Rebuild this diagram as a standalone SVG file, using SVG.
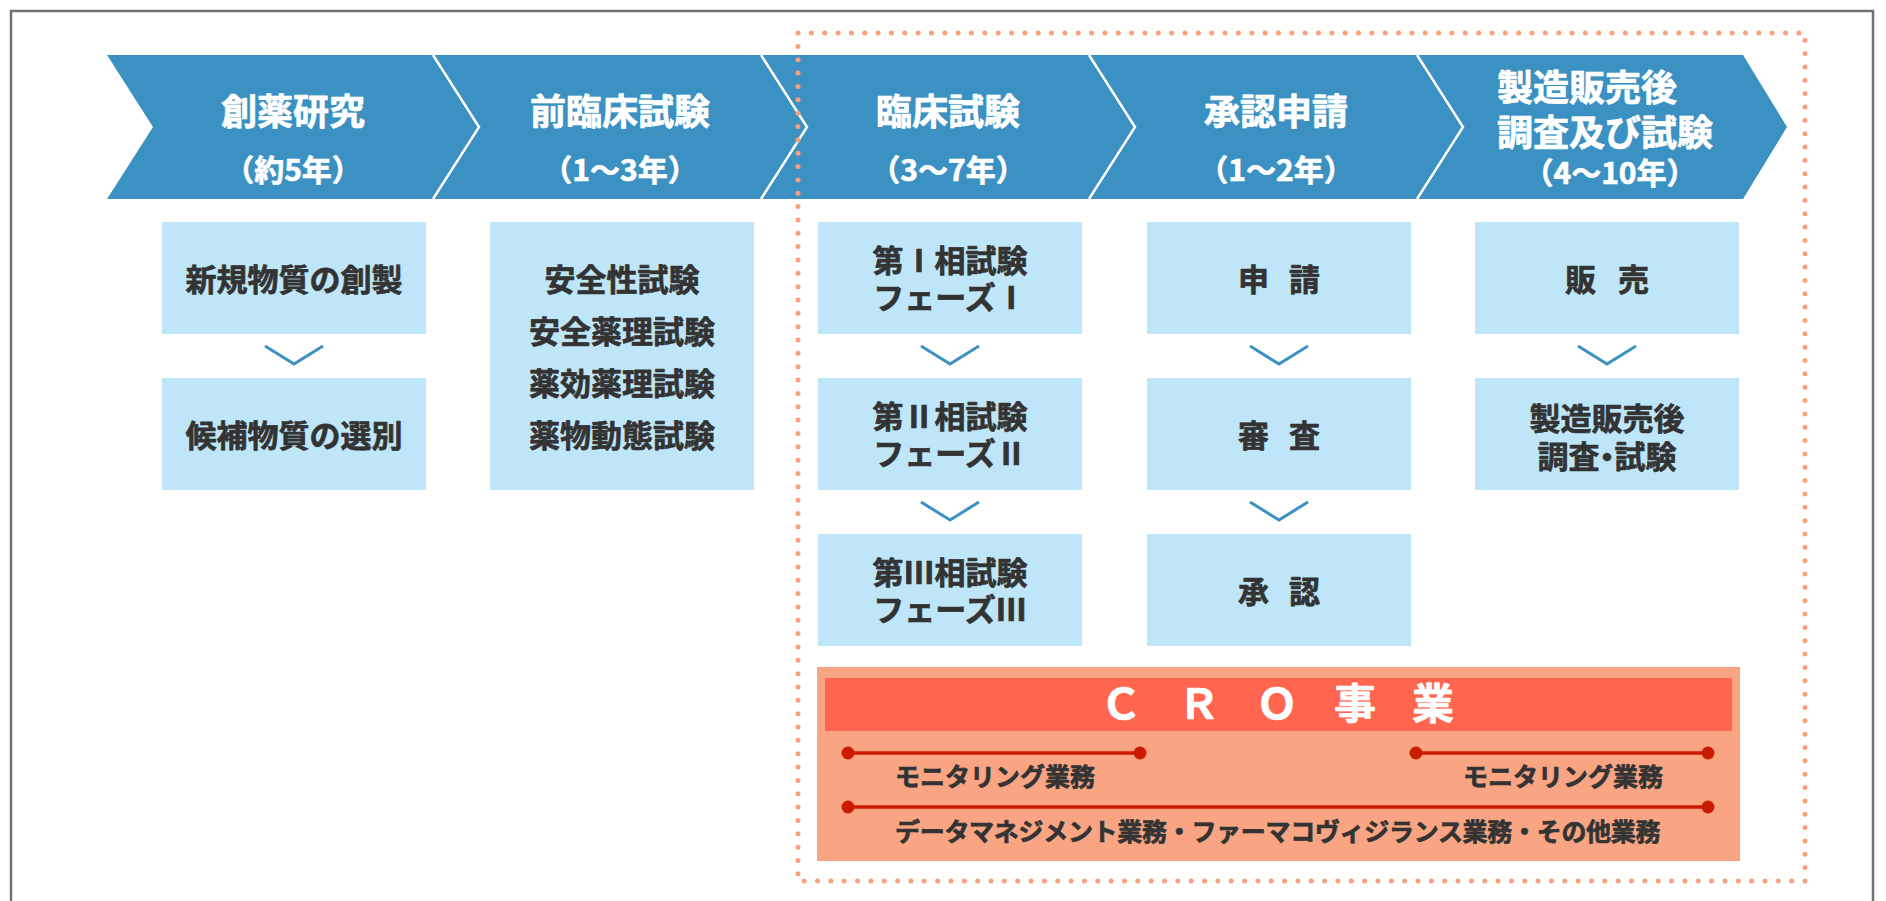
<svg xmlns="http://www.w3.org/2000/svg" width="1886" height="901" viewBox="0 0 1886 901">
<style>
  text { font-family: "Noto Sans CJK JP", "Noto Sans CJK SC", sans-serif; font-weight: bold; stroke-width: 0.7px; stroke-linejoin: round; }
  .chev { fill: #3a91c2; }
  .sep { fill: none; stroke: #ffffff; stroke-width: 2.5; }
  .wt { fill: #ffffff; stroke: #ffffff; font-size: 36px; text-anchor: middle; }
  .wy { fill: #ffffff; stroke: #ffffff; font-size: 30px; text-anchor: middle; }
  .box { fill: #bee6f8; }
  .bt { fill: #333333; stroke: #333333; font-size: 31px; text-anchor: middle; }
  .vv { fill: none; stroke: #3a91c2; stroke-width: 3; }
  .ct { fill: #333333; stroke: #333333; font-size: 25px; }
  .rl { stroke: #cc1c00; stroke-width: 3.5; }
  .rd { fill: #cc1c00; }
</style>
<rect x="0" y="0" width="1886" height="901" fill="#ffffff"/>
<rect id="frame" x="11" y="11" width="1862" height="920" fill="none" stroke="#707070" stroke-width="2.5"/>

<g id="phase-1">
  <polygon class="chev" points="107,55 433,55 479,127 433,199 107,199 153,127"/>
  <text class="wt" x="293" y="125">創薬研究</text>
  <text class="wy" x="293" y="181">（約5年）</text>
</g>
<g id="phase-2">
  <polygon class="chev" points="433,55 761,55 807,127 761,199 433,199 479,127"/>
  <text class="wt" x="620" y="125">前臨床試験</text>
  <text class="wy" x="620" y="181">（1〜3年）</text>
</g>
<g id="phase-3">
  <polygon class="chev" points="761,55 1089,55 1135,127 1089,199 761,199 807,127"/>
  <text class="wt" x="948" y="125">臨床試験</text>
  <text class="wy" x="948" y="181">（3〜7年）</text>
</g>
<g id="phase-4">
  <polygon class="chev" points="1089,55 1417,55 1463,127 1417,199 1089,199 1135,127"/>
  <text class="wt" x="1276" y="125">承認申請</text>
  <text class="wy" x="1276" y="181">（1〜2年）</text>
</g>
<g id="phase-5">
  <polygon class="chev" points="1417,55 1743,55 1787,127 1743,199 1417,199 1463,127"/>
  <text class="wt" x="1497" y="101" style="text-anchor:start">製造販売後</text>
  <text class="wt" x="1497" y="146" style="text-anchor:start">調査及び試験</text>
  <text class="wy" x="1610" y="184">（4〜10年）</text>
</g>
<g id="phase-separators">
  <polyline class="sep" points="433,55 479,127 433,199"/>
  <polyline class="sep" points="761,55 807,127 761,199"/>
  <polyline class="sep" points="1089,55 1135,127 1089,199"/>
  <polyline class="sep" points="1417,55 1463,127 1417,199"/>
</g>

<g id="box-souyaku-1">
  <rect class="box" x="162" y="222" width="264" height="112"/>
  <text class="bt" x="294" y="291">新規物質の創製</text>
</g>
<g id="box-souyaku-2">
  <rect class="box" x="162" y="378" width="264" height="112"/>
  <text class="bt" x="294" y="447">候補物質の選別</text>
</g>
<g id="box-preclinical">
  <rect class="box" x="490" y="222" width="264" height="268"/>
  <text class="bt" x="622" y="291">安全性試験</text>
  <text class="bt" x="622" y="343">安全薬理試験</text>
  <text class="bt" x="622" y="395">薬効薬理試験</text>
  <text class="bt" x="622" y="447">薬物動態試験</text>
</g>
<g id="box-phase1">
  <rect class="box" x="818" y="222" width="264" height="112"/>
  <text class="bt" x="950" y="272">第Ⅰ相試験</text>
  <text class="bt" x="950" y="309">フェーズⅠ</text>
</g>
<g id="box-phase2">
  <rect class="box" x="818" y="378" width="264" height="112"/>
  <text class="bt" x="950" y="428">第Ⅱ相試験</text>
  <text class="bt" x="950" y="465">フェーズⅡ</text>
</g>
<g id="box-phase3">
  <rect class="box" x="818" y="534" width="264" height="112"/>
  <text class="bt" x="950" y="584">第Ⅲ相試験</text>
  <text class="bt" x="950" y="621">フェーズⅢ</text>
</g>
<g id="box-shinsei">
  <rect class="box" x="1147" y="222" width="264" height="112"/>
  <text class="bt" x="1279" y="291">申<tspan dx="20">請</tspan></text>
</g>
<g id="box-shinsa">
  <rect class="box" x="1147" y="378" width="264" height="112"/>
  <text class="bt" x="1279" y="447">審<tspan dx="20">査</tspan></text>
</g>
<g id="box-shounin">
  <rect class="box" x="1147" y="534" width="264" height="112"/>
  <text class="bt" x="1279" y="603">承<tspan dx="20">認</tspan></text>
</g>
<g id="box-hanbai">
  <rect class="box" x="1475" y="222" width="264" height="112"/>
  <text class="bt" x="1607" y="291">販<tspan dx="22">売</tspan></text>
</g>
<g id="box-pms">
  <rect class="box" x="1475" y="378" width="264" height="112"/>
  <text class="bt" x="1607" y="430">製造販売後</text>
  <text class="bt" x="1607" y="468">調査<tspan dx="-8">・</tspan><tspan dx="-8">試験</tspan></text>
</g>

<g id="connectors">
  <polyline class="vv" points="265,346 294,364 323,346"/>
  <polyline class="vv" points="921,346 950,364 979,346"/>
  <polyline class="vv" points="921,502 950,520 979,502"/>
  <polyline class="vv" points="1250,346 1279,364 1308,346"/>
  <polyline class="vv" points="1250,502 1279,520 1308,502"/>
  <polyline class="vv" points="1578,346 1607,364 1636,346"/>
</g>

<g id="cro">
  <rect x="817" y="667" width="923" height="194" fill="#f9a583"/>
  <rect x="825" y="678" width="907" height="53" fill="#ff654f"/>
  <text x="1100" y="719" fill="#ffffff" stroke="#ffffff" font-size="42" letter-spacing="36">ＣＲＯ事業</text>
  <line class="rl" x1="848" y1="753" x2="1140" y2="753"/>
  <circle class="rd" cx="848" cy="753" r="6.5"/>
  <circle class="rd" cx="1140" cy="753" r="6.5"/>
  <text class="ct" x="895" y="786">モニタリング業務</text>
  <line class="rl" x1="1416" y1="753" x2="1708" y2="753"/>
  <circle class="rd" cx="1416" cy="753" r="6.5"/>
  <circle class="rd" cx="1708" cy="753" r="6.5"/>
  <text class="ct" x="1463" y="786">モニタリング業務</text>
  <line class="rl" x1="848" y1="807" x2="1708" y2="807"/>
  <circle class="rd" cx="848" cy="807" r="6.5"/>
  <circle class="rd" cx="1708" cy="807" r="6.5"/>
  <text class="ct" x="895" y="841" letter-spacing="-0.3">データマネジメント業務・ファーマコヴィジランス業務・その他業務</text>
</g>

<rect id="cro-scope" x="798" y="33" width="1007" height="848" fill="none" stroke="#f9a07c" stroke-width="5" stroke-linecap="round" stroke-dasharray="0 13.345"/>
</svg>
